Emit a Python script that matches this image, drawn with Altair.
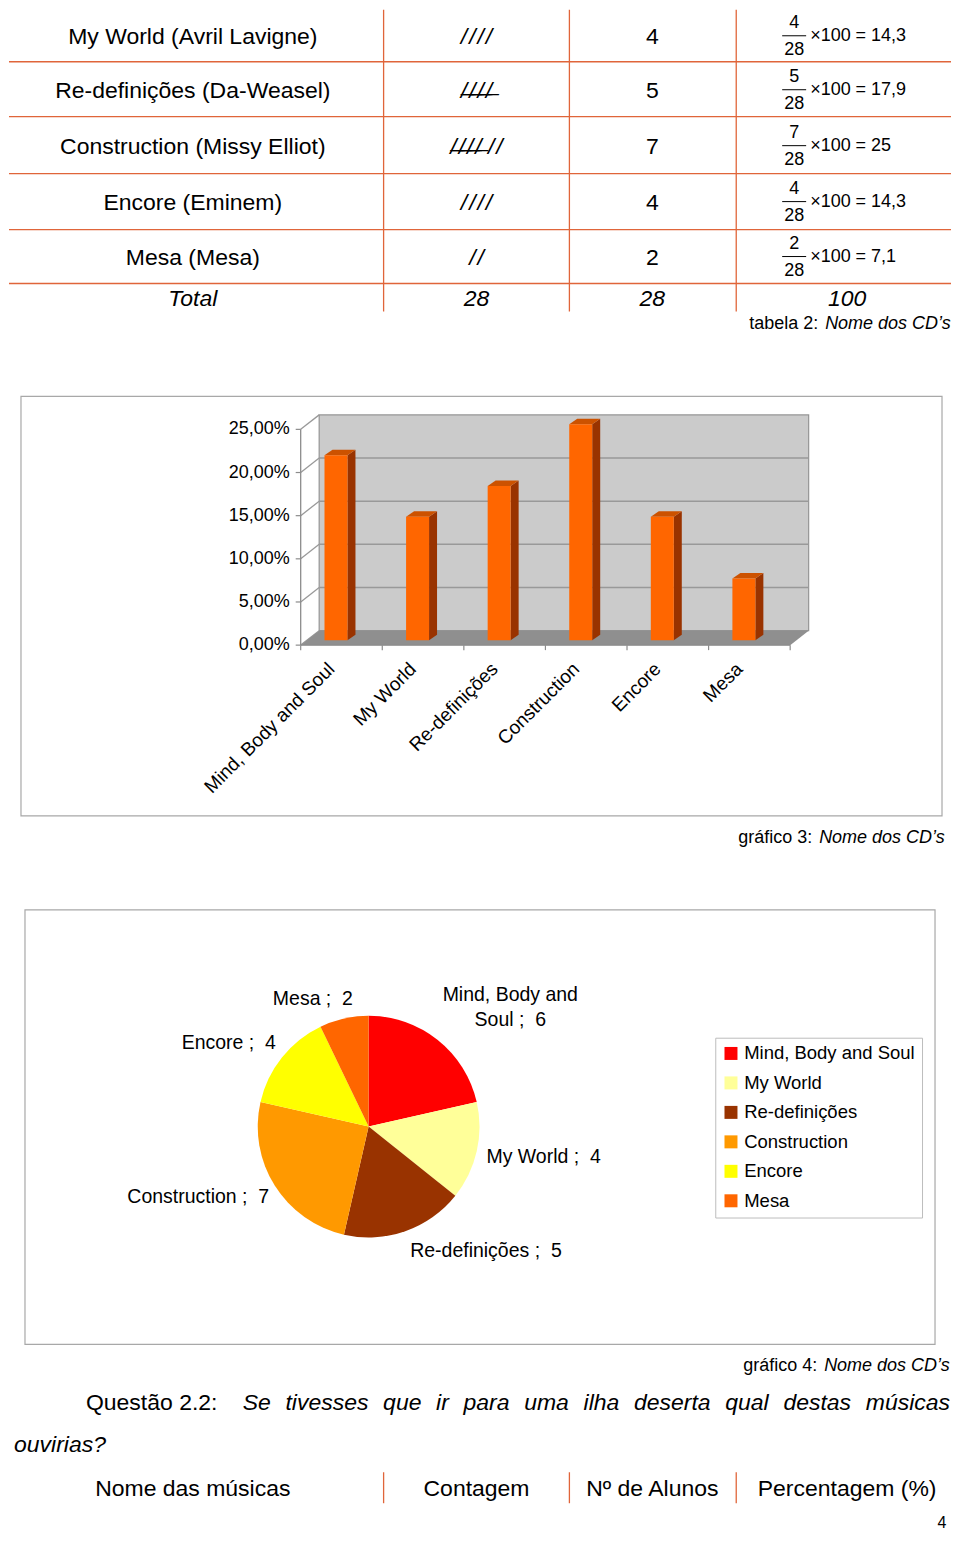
import altair as alt
import pandas as pd

FONT = "Liberation Sans"
RULE_COLOR = "#E0653A"
FRAME_COLOR = "#A8A8A8"
GRID_COLOR = "#999999"

# ---------------- data ----------------
cds = ["Mind, Body and Soul", "My World", "Re-definições", "Construction", "Encore", "Mesa"]
alunos = [6, 4, 5, 7, 4, 2]
cd_colors = ["#FF0000", "#FFFF99", "#993300", "#FF9900", "#FFFF00", "#FF6600"]

table_names = ["My World (Avril Lavigne)", "Re-definições (Da-Weasel)",
               "Construction (Missy Elliot)", "Encore (Eminem)", "Mesa (Mesa)"]
FOUR = "/\u200a/\u200a/\u200a/"
FIVE = "/\u0336\u200a\u0336/\u0336\u200a\u0336/\u0336\u200a\u0336/\u0336"
TWO = "/\u200a/"
table_tally = [FOUR, FIVE, FIVE + " " + TWO, FOUR, TWO]
table_counts = [4, 5, 7, 4, 2]
table_pct = ["14,3", "17,9", "25", "14,3", "7,1"]
total_row = ["Total", "28", "28", "100"]

y_tick_values = [0, 5, 10, 15, 20, 25]
header_cols = ["Nome das músicas", "Contagem", "Nº de Alunos", "Percentagem (%)"]
question_lead = "Questão 2.2:"
question_words = ["Se", "tivesses", "que", "ir", "para", "uma", "ilha", "deserta",
                  "qual", "destas", "músicas"]
question_tail = "ouvirias?"
caption_kind = ["tabela 2:", "gráfico 3:", "gráfico 4:"]
caption_text = "Nome dos CD’s"
page_number = "4"

total = sum(alunos)

# panel heights (vconcat, no spacing)
H1, H2, H3, H4 = 340, 512, 532, 140

one = alt.Data(values=[{"k": 0}])


def label(txt, x, y, size=18, align="left", style="normal", baseline="middle"):
    return alt.Chart(one).mark_text(
        text=txt, align=align, baseline=baseline, fontSize=size,
        fontStyle=style, font=FONT, color="black"
    ).encode(x=alt.value(x), y=alt.value(y))


def caption(kind, right_x, y):
    return [label(kind, right_x, y, 18, align="right"),
            label(caption_text, right_x + 7, y, 18, align="left", style="italic")]


# ---------------- panel 1 : table ----------------
col_scale = alt.Scale(domain=[-0.5, 0, 0.5, 1, 1.5, 2, 2.5, 3, 3.5],
                      range=[0, 184, 375, 468, 561, 644, 728, 839, 943],
                      nice=False, zero=False)
row_scale = alt.Scale(domain=[-0.5, 0, 0.5, 1, 1.5, 2, 2.5, 3, 3.5, 4, 4.5, 5, 5.5],
                      range=[0, 27, 52, 81, 107, 137, 164, 193, 220, 248, 274, 290, 302],
                      nice=False, zero=False)


def CX(f):
    return alt.X(f, type="quantitative", scale=col_scale, axis=None)


def RY(f):
    return alt.Y(f, type="quantitative", scale=row_scale, axis=None)


normal_cells = pd.DataFrame({
    "col": [0] * 5 + [2] * 5,
    "row": list(range(5)) * 2,
    "txt": table_names + [str(c) for c in table_counts],
})
italic_cells = pd.DataFrame({
    "col": [1] * 5 + [0, 1, 2, 3],
    "row": list(range(5)) + [5] * 4,
    "txt": table_tally + total_row,
})
formula = pd.DataFrame({
    "col": [3] * 5,
    "row": list(range(5)),
    "numer": [str(c) for c in table_counts],
    "denom": [str(total)] * 5,
    "rest": ["×100 = " + p for p in table_pct],
})
hrules = pd.DataFrame({"row": [0.5, 1.5, 2.5, 3.5, 4.5]})
vrules = pd.DataFrame({"col": [0.5, 1.5, 2.5]})

p1_layers = [
    alt.Chart(hrules).mark_rule(color=RULE_COLOR, strokeWidth=1.3).encode(
        y=RY("row"), x=alt.XDatum(-0.5, scale=col_scale, axis=None), x2=alt.X2Datum(3.5)),
    alt.Chart(vrules).mark_rule(color=RULE_COLOR, strokeWidth=1.3).encode(
        x=CX("col"), y=alt.YDatum(-0.5, scale=row_scale, axis=None), y2=alt.Y2Datum(5.5)),
    alt.Chart(normal_cells).mark_text(fontSize=23, font=FONT, baseline="middle").encode(
        x=CX("col"), y=RY("row"), text="txt:N"),
    alt.Chart(italic_cells).mark_text(fontSize=23, font=FONT, fontStyle="italic",
                                      baseline="middle").encode(
        x=CX("col"), y=RY("row"), text="txt:N"),
    alt.Chart(formula).mark_text(fontSize=18, font=FONT, baseline="middle",
                                 xOffset=-53, yOffset=-14).encode(
        x=CX("col"), y=RY("row"), text="numer:N"),
    alt.Chart(formula).mark_text(fontSize=18, font=FONT, baseline="middle",
                                 xOffset=-53, yOffset=13).encode(
        x=CX("col"), y=RY("row"), text="denom:N"),
    alt.Chart(formula).mark_rule(color="black", strokeWidth=1, xOffset=-65,
                                 x2Offset=-41, yOffset=-1).encode(
        x=CX("col"), x2="col:Q", y=RY("row")),
    alt.Chart(formula).mark_text(fontSize=18, font=FONT, baseline="middle",
                                 align="left", xOffset=-37, yOffset=-1).encode(
        x=CX("col"), y=RY("row"), text="rest:N"),
] + caption(caption_kind[0], 810, 315)

p1 = alt.layer(*p1_layers).properties(width=944, height=H1)

# ---------------- panel 2 : 3D bar chart ----------------
X0, X1 = 292, 782      # front plane, x range
Y0, Y1 = 296, 80       # front plane, 0% .. 25%
ux = (X1 - X0) / 6.0
uy = (Y0 - Y1) / 25.0
WDX, WDY = 18.5 / ux, 14.5 / uy       # depth of the walls
BW, BSH, BDX, BDY, LIFT = 23, -5.5, 8, 5.5, 5   # bar geometry in px

xs = alt.Scale(domain=[-0.5, 5.5], range=[X0, X1], nice=False, zero=False)
ys = alt.Scale(domain=[0, 25], range=[Y0, Y1], nice=False, zero=False)


def BX(f, **kw):
    return alt.X(f, type="quantitative", scale=xs, axis=None, **kw)


def BY(f, **kw):
    return alt.Y(f, type="quantitative", scale=ys, axis=None, **kw)


pct = [a / total * 100 for a in alunos]
lift = LIFT / uy
bars = pd.DataFrame({"cd": cds, "i": list(range(6)), "pct": pct})
bars["xl"] = bars["i"] + (BSH - BW / 2) / ux
bars["xr"] = bars["i"] + (BSH + BW / 2) / ux
bars["lo"] = lift
bars["hi"] = bars["pct"] + lift

side_rows, top_rows = [], []
for _, b in bars.iterrows():
    side_rows.append({"cd": b.cd, "sx": b.xr, "s0": lift, "s1": b.hi})
    side_rows.append({"cd": b.cd, "sx": b.xr + BDX / ux, "s0": lift + BDY / uy,
                      "s1": b.hi + BDY / uy})
    top_rows.append({"cd": b.cd, "ty": b.hi, "t0": b.xl, "t1": b.xr})
    top_rows.append({"cd": b.cd, "ty": b.hi + BDY / uy, "t0": b.xl + BDX / ux,
                     "t1": b.xr + BDX / ux})
side = pd.DataFrame(side_rows)
top = pd.DataFrame(top_rows)

floor = pd.DataFrame({"fy": [0, WDY], "fa": [-0.5, -0.5 + WDX], "fb": [5.5, 5.5 + WDX]})
grid = pd.DataFrame({"gy": [v + WDY for v in y_tick_values[1:-1]]})
ticks = pd.DataFrame({"k": y_tick_values,
                      "k2": [v + WDY for v in y_tick_values],
                      "lab": [f"{v:.2f}".replace(".", ",") + "%" for v in y_tick_values]})
xticks = pd.DataFrame({"t": [i - 0.5 for i in range(7)]})

p2_layers = [
    alt.Chart(one).mark_rect(fillOpacity=0, stroke=FRAME_COLOR, strokeWidth=1.2).encode(
        x=alt.value(12), x2=alt.value(934), y=alt.value(47), y2=alt.value(467)),
    alt.Chart(one).mark_rect(fill="#CBCBCB", stroke="#959595", strokeWidth=1.2).encode(
        x=alt.XDatum(-0.5 + WDX, scale=xs, axis=None), x2=alt.X2Datum(5.5 + WDX),
        y=alt.YDatum(WDY, scale=ys, axis=None), y2=alt.Y2Datum(25 + WDY)),
    alt.Chart(grid).mark_rule(color=GRID_COLOR, strokeWidth=1.5).encode(
        y=BY("gy"), x=alt.XDatum(-0.5 + WDX, scale=xs, axis=None),
        x2=alt.X2Datum(5.5 + WDX)),
    alt.Chart(ticks).mark_rule(color=GRID_COLOR, strokeWidth=1.3).encode(
        x=alt.XDatum(-0.5, scale=xs, axis=None), x2=alt.X2Datum(-0.5 + WDX),
        y=BY("k"), y2="k2:Q"),
    alt.Chart(floor).mark_area(orient="horizontal", color="#8F8F8F").encode(
        y=BY("fy"), x=BX("fa", stack=None), x2="fb:Q"),
    alt.Chart(one).mark_rule(color="#8C8C8C", strokeWidth=1.3).encode(
        x=alt.XDatum(-0.5, scale=xs, axis=None),
        y=alt.YDatum(0, scale=ys, axis=None), y2=alt.Y2Datum(25)),
    alt.Chart(ticks).mark_rule(color="#8C8C8C", strokeWidth=1.2).encode(
        x=alt.XDatum(-0.5, scale=xs, axis=None), x2=alt.X2Datum(-0.5 - 5 / ux),
        y=BY("k")),
    alt.Chart(one).mark_rule(color="#8C8C8C", strokeWidth=1.3).encode(
        y=alt.YDatum(0, scale=ys, axis=None),
        x=alt.XDatum(-0.5, scale=xs, axis=None), x2=alt.X2Datum(5.5)),
    alt.Chart(xticks).mark_rule(color="#8C8C8C", strokeWidth=1.2).encode(
        x=BX("t"), y=alt.YDatum(0, scale=ys, axis=None), y2=alt.Y2Datum(-5 / uy)),
    alt.Chart(side).mark_area(orient="vertical", color="#993300").encode(
        x=BX("sx"), y=BY("s1", stack=None), y2="s0:Q", detail="cd:N"),
    alt.Chart(top).mark_area(orient="horizontal", color="#CC5200").encode(
        y=BY("ty"), x=BX("t0", stack=None), x2="t1:Q", detail="cd:N"),
    alt.Chart(bars).mark_rect(color="#FF6600").encode(
        x=BX("xl"), x2="xr:Q", y=BY("lo"), y2="hi:Q"),
    alt.Chart(ticks).mark_text(align="right", baseline="middle", fontSize=18, font=FONT,
                               xOffset=-11).encode(
        x=alt.XDatum(-0.5, scale=xs, axis=None), y=BY("k"), text="lab:N"),
    alt.Chart(bars).mark_text(angle=315, align="right", baseline="middle", fontSize=19,
                              font=FONT, xOffset=-10, yOffset=21).encode(
        x=BX("i"), y=alt.YDatum(0, scale=ys, axis=None), text="cd:N"),
] + caption(caption_kind[1], 804, 489)

p2 = alt.layer(*p2_layers).properties(width=944, height=H2)

# ---------------- panel 3 : pie chart ----------------
pie = pd.DataFrame({"cd": cds, "n": alunos, "ord": list(range(6))})
pie["lab"] = [f"{c} ;\u00a0 {n}".replace("and Soul", "and\nSoul")
              for c, n in zip(cds, alunos)]
ts = alt.Scale(domain=[0, total])

arcs = alt.Chart(pie).mark_arc(outerRadius=111).encode(
    theta=alt.Theta("n:Q", stack=True, scale=ts),
    order=alt.Order("ord:Q"),
    color=alt.Color("cd:N", scale=alt.Scale(domain=cds, range=cd_colors),
                    legend=alt.Legend(
                        title=None, orient="none", legendX=707, legendY=H1 + H2 + 177,
                        symbolType="square", symbolSize=169, symbolStrokeWidth=0,
                        labelFont=FONT, labelFontSize=18.5, labelColor="black",
                        labelLimit=400, labelOffset=4, rowPadding=10.5, padding=6.5,
                        fillColor="white", strokeColor="#BDBDBD")),
)

lab_base = alt.Chart(pie).transform_window(
    cum="sum(n)", sort=[alt.SortField("ord", order="ascending")], frame=[None, 0]
).transform_calculate(mid="datum.cum - datum.n / 2")

label_style = {
    "Mind, Body and Soul": ("center", "bottom", 67, -28),
    "My World": ("left", "middle", 1, 4),
    "Re-definições": ("left", "top", 2, 2),
    "Construction": ("right", "top", 2, -2),
    "Encore": ("right", "bottom", 1, 1),
    "Mesa": ("right", "bottom", 11, -1),
}
pie_labels = []
for name, (al, bl, ddx, ddy) in label_style.items():
    pie_labels.append(
        lab_base.transform_filter(alt.FieldEqualPredicate(field="cd", equal=name))
        .mark_text(radius=120, align=al, baseline=bl, dx=ddx, dy=ddy, fontSize=19.5,
                   font=FONT, lineBreak="\n", lineHeight=25, color="black")
        .encode(theta=alt.Theta("mid:Q", stack=None, scale=ts), text="lab:N")
    )

p3_layers = [
    alt.Chart(one).mark_rect(fillOpacity=0, stroke=FRAME_COLOR, strokeWidth=1.2).encode(
        x=alt.value(16), x2=alt.value(927), y=alt.value(49), y2=alt.value(484)),
    arcs,
] + pie_labels + caption(caption_kind[2], 809, 506)

p3 = alt.layer(*p3_layers).properties(width=720, height=H3)

# ---------------- panel 4 : question + header ----------------
SEP = " \u00a0\u200a"
head = pd.DataFrame({"col": [0, 1, 2, 3], "txt": header_cols})
p4_layers = [
    label(question_lead, 77, 11, 23),
    label(SEP.join(question_words), 942, 11, 23, align="right", style="italic"),
    label(question_tail, 5, 53, 23, style="italic"),
    alt.Chart(vrules).mark_rule(color=RULE_COLOR, strokeWidth=1.3).encode(
        x=CX("col"), y=alt.value(80), y2=alt.value(111)),
    alt.Chart(head).mark_text(fontSize=23, font=FONT, baseline="middle").encode(
        x=CX("col"), y=alt.value(97), text="txt:N"),
    label(page_number, 934, 131, 16, align="center"),
]
p4 = alt.layer(*p4_layers).properties(width=944, height=H4)

chart = alt.vconcat(p1, p2, p3, p4, spacing=0, bounds="flush").properties(
    padding=0
).configure(font=FONT).configure_view(strokeWidth=0)

chart.save("out.html", embed_options={"renderer": "svg", "actions": False})
